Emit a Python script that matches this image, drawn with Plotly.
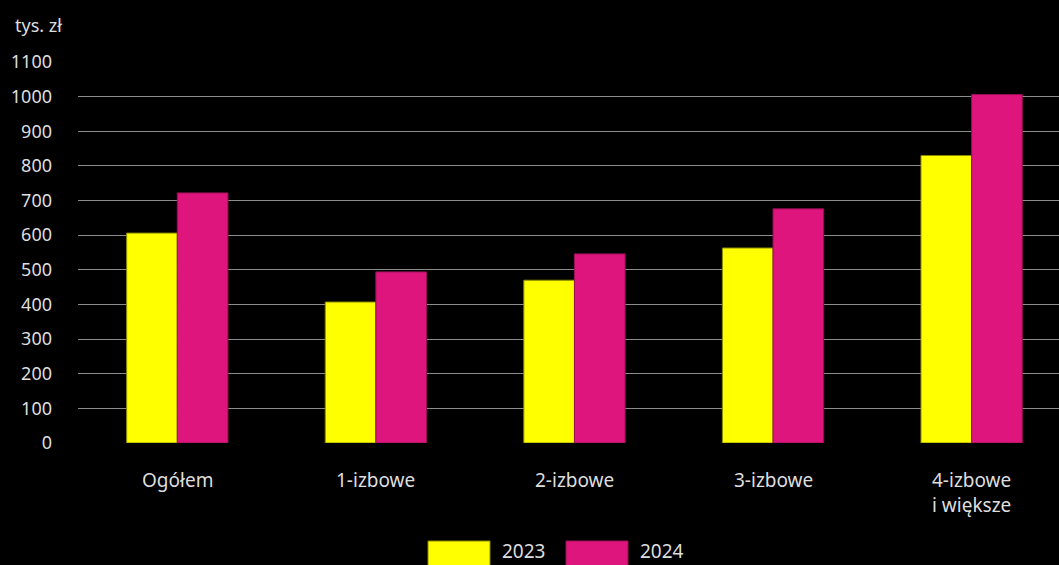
import plotly.graph_objects as go

categories = ["Ogółem", "1-izbowe", "2-izbowe", "3-izbowe", "4-izbowe<br>i większe"]
values_2023 = [606, 407, 470, 563, 830]
values_2024 = [722, 494, 546, 676, 1006]
series_names = ["2023", "2024"]
y_ticks = list(range(0, 1200, 100))

FONT = "Noto Sans"
TXT = "#dedede"
YEL = "#ffff00"
MAG = "#de157d"

# plot area in pixels
L, R, T, B = 78, 1059, 62, 443
PW, PH = R - L, B - T

def px_x(p):
    return (p - L) / PW

def px_y(p):
    return (B - p) / PH

xs = list(range(len(categories)))

fig = go.Figure()
fig.add_trace(go.Bar(x=xs, y=values_2023, name=series_names[0],
                     marker=dict(color=YEL, line=dict(color="#8a8a00", width=1)),
                     showlegend=False))
fig.add_trace(go.Bar(x=xs, y=values_2024, name=series_names[1],
                     marker=dict(color=MAG, line=dict(color="#9a1058", width=1)),
                     showlegend=False))

fig.update_layout(
    width=1059, height=565,
    paper_bgcolor="black", plot_bgcolor="black",
    margin=dict(l=L, r=1059 - R, t=T, b=565 - B),
    barmode="group", bargap=0.49, bargroupgap=0,
    font=dict(family=FONT, color=TXT, size=18),
    xaxis=dict(range=[-0.5, 4.44], tickvals=xs, ticktext=[""] * len(xs),
               showgrid=False, zeroline=False, showline=False, ticks=""),
    yaxis=dict(range=[0, 1100], tickvals=y_ticks, showgrid=True, gridcolor="#8c8c8c",
               gridwidth=1, zeroline=False, showline=False, ticks="",
               tickfont=dict(size=18, color=TXT), ticklabelstandoff=25),
)

fig.add_annotation(text="tys. zł", xref="paper", yref="paper", x=px_x(13), y=px_y(25),
                   xanchor="left", yanchor="middle", showarrow=False,
                   font=dict(size=18, color=TXT))

# category labels
for i, cat in enumerate(categories):
    fig.add_annotation(text=cat, x=i, xref="x", yref="paper", y=px_y(465),
                       xanchor="center", yanchor="top", showarrow=False,
                       align="center", font=dict(size=19, color=TXT))

# custom legend (large swatches like the reference)
legend_items = [(series_names[0], YEL, "#8a8a00", 428, 500),
                (series_names[1], MAG, "#9a1058", 566, 638)]
for name, col, lc, bx, tx in legend_items:
    fig.add_shape(type="rect", xref="paper", yref="paper", x0=px_x(bx), x1=px_x(bx + 62),
                  y0=px_y(568), y1=px_y(541),
                  fillcolor=col, line=dict(color=lc, width=1))
    fig.add_annotation(text=name, xref="paper", yref="paper", x=px_x(tx),
                       y=px_y(551), xanchor="left", yanchor="middle",
                       showarrow=False, font=dict(size=19, color=TXT))

fig.write_html("out.html", config={"displayModeBar": False},
               post_script="document.body.style.margin='0';document.body.style.padding='0';"
                           "document.body.style.background='black';"
                           "document.body.style.overflow='hidden';")
